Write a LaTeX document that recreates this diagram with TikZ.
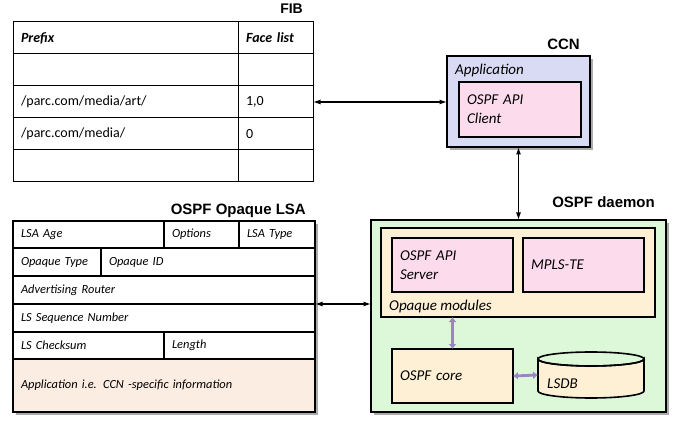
\documentclass[tikz,border=0pt]{standalone}
\usepackage{fontspec}
\setmainfont{Carlito}
\newfontfamily\hv{Liberation Sans}
\usetikzlibrary{arrows.meta,shadows}
\definecolor{lav}{HTML}{D9DAF4}
\definecolor{pnk}{HTML}{FCDCEC}
\definecolor{grn}{HTML}{DDF8D8}
\definecolor{crm}{HTML}{FDF0D5}
\definecolor{pch}{HTML}{FCEDE2}
\definecolor{purp}{HTML}{9B85C2}
\tikzset{
  fibcell/.style={draw, line width=1pt, anchor=north west, inner xsep=8pt, inner ysep=0pt, align=left, outer sep=0pt, font=\fontsize{14}{17}\selectfont},
  lsacell/.style={draw, line width=1.5pt, anchor=north west, inner xsep=7pt, inner ysep=0pt, align=left, outer sep=0pt, font=\fontsize{12.4}{15}\selectfont\itshape},
  box/.style={draw, anchor=north west, inner sep=0pt, outer sep=0pt},
  shad/.style={drop shadow={shadow xshift=3pt, shadow yshift=-3pt, fill=black!55, opacity=.6}},
  title/.style={anchor=base east, inner sep=0pt, font=\hv\bfseries\fontsize{15}{18}\selectfont},
  itx/.style={font=\fontsize{15}{18}\selectfont\itshape},
  conn/.style={line width=1.2pt, {Latex[length=7.5pt,width=5pt]}-{Latex[length=7.5pt,width=5pt]}},
  pconn/.style={draw=purp, line width=2.8pt, {Latex[length=5pt,width=8pt]}-{Latex[length=5pt,width=8pt]}},
}
\newcommand\mycell[7][]{\node[#1, minimum width=#5, minimum height=#6, text width={#5pt-16pt}] (#2) at (#3,#4) {#7};}
\begin{document}
\begin{tikzpicture}[x=1pt,y=-1pt]
\useasboundingbox (0,0) rectangle (683,422);
% FIB
\mycell[fibcell]{f11}{13}{22}{225}{32}{\textbf{\textit{Prefix}}}
\mycell[fibcell]{f12}{238}{22}{75}{32}{\textbf{\textit{Face list}}}
\mycell[fibcell]{f21}{13}{54}{225}{32}{}
\mycell[fibcell]{f22}{238}{54}{75}{32}{}
\mycell[fibcell]{f31}{13}{86}{225}{32}{/parc.com/media/art/}
\mycell[fibcell]{f32}{238}{86}{75}{32}{1,0}
\mycell[fibcell]{f41}{13}{118}{225}{32}{/parc.com/media/}
\mycell[fibcell]{f42}{238}{118}{75}{32}{0}
\mycell[fibcell]{f51}{13}{150}{225}{32}{}
\mycell[fibcell]{f52}{238}{150}{75}{32}{}
\node[title, font=\hv\bfseries\fontsize{14}{17}\selectfont] (fibt) at (303,14) {FIB};
% LSA
\node[box, shad, fill=white, minimum width=302, minimum height=191, line width=1.5pt] (lsa) at (13,221) {};
\mycell[lsacell]{l11}{13}{221}{151}{27}{LSA Age}
\mycell[lsacell]{l12}{164}{221}{75}{27}{Options}
\mycell[lsacell]{l13}{239}{221}{76}{27}{LSA Type}
\mycell[lsacell]{l21}{13}{248}{88}{28}{Opaque Type}
\mycell[lsacell]{l22}{101}{248}{214}{28}{Opaque ID}
\mycell[lsacell]{l31}{13}{276}{302}{28}{Advertising Router}
\mycell[lsacell]{l41}{13}{304}{302}{28}{LS Sequence Number}
\mycell[lsacell]{l51}{13}{332}{151}{27}{LS Checksum}
\mycell[lsacell]{l52}{164}{332}{151}{27}{Length}
\mycell[lsacell,fill=pch]{l61}{13}{359}{302}{53}{Application i.e. CCN -specific information}
\node[title] (lsat) at (306,215) {OSPF Opaque LSA};
% CCN
\node[box, shad, fill=lav, line width=2pt, minimum width=143, minimum height=91] (ccn) at (447,56) {};
\node[title] (ccnt) at (580,50) {CCN};
\node[itx, anchor=base west, inner sep=0pt] (app) at (455,75) {Application};
\node[box, fill=pnk, line width=1.6pt, minimum width=122, minimum height=55, align=left, text width={122pt-16pt}, inner xsep=8pt, font=\fontsize{15}{19}\selectfont\itshape] (client) at (459,82) {OSPF API\\Client};
% daemon
\node[box, shad, fill=grn, line width=1.6pt, minimum width=295, minimum height=192] (daemon) at (371,220) {};
\node[title] (daemont) at (655,208) {OSPF daemon};
\node[box, fill=crm, line width=1.6pt, minimum width=274, minimum height=89] (opaque) at (381,228) {};
\node[box, fill=pnk, line width=1.6pt, minimum width=121, minimum height=54, align=left, text width={121pt-16pt}, inner xsep=8pt, font=\fontsize{15}{19}\selectfont\itshape] (server) at (392,238) {OSPF API\\Server};
\node[box, fill=pnk, line width=1.6pt, minimum width=121, minimum height=54, align=left, text width={121pt-16pt}, inner xsep=8pt, itx] (mpls) at (523,238) {MPLS-TE};
\node[itx, anchor=base west, inner sep=0pt] (opt) at (389,310) {Opaque modules};
\node[box, fill=crm, line width=1.6pt, minimum width=121, minimum height=54, align=left, text width={121pt-16pt}, inner xsep=8pt, itx] (core) at (392,349) {OSPF core};
% LSDB cylinder
\filldraw[fill=crm, line width=1.6pt] (538,359) -- (538,391) arc[start angle=180, end angle=0, x radius=53, y radius=7] -- (644,359) arc[start angle=0, end angle=180, x radius=53, y radius=7] -- cycle;
\draw[line width=1.6pt] (591,359) ellipse[x radius=53, y radius=7];
\node[anchor=north west, minimum width=106, minimum height=46, inner sep=0pt, outer sep=0pt] (lsdb) at (538,352) {};
\node[itx, anchor=base west, inner sep=0pt] (lsdbt) at (547,388) {LSDB};
% connectors
\draw[conn] (f32.east) -- (ccn.west |- f32.east);
\draw[conn] (ccn.south) -- (ccn.south |- daemon.north);
\draw[conn] (l41.north east) -- (daemon.west |- l41.north east);
\draw[pconn] (opaque.south -| core.north) -- (core.north);
\draw[pconn] (core.east) -- (lsdb.west);
\end{tikzpicture}
\end{document}
